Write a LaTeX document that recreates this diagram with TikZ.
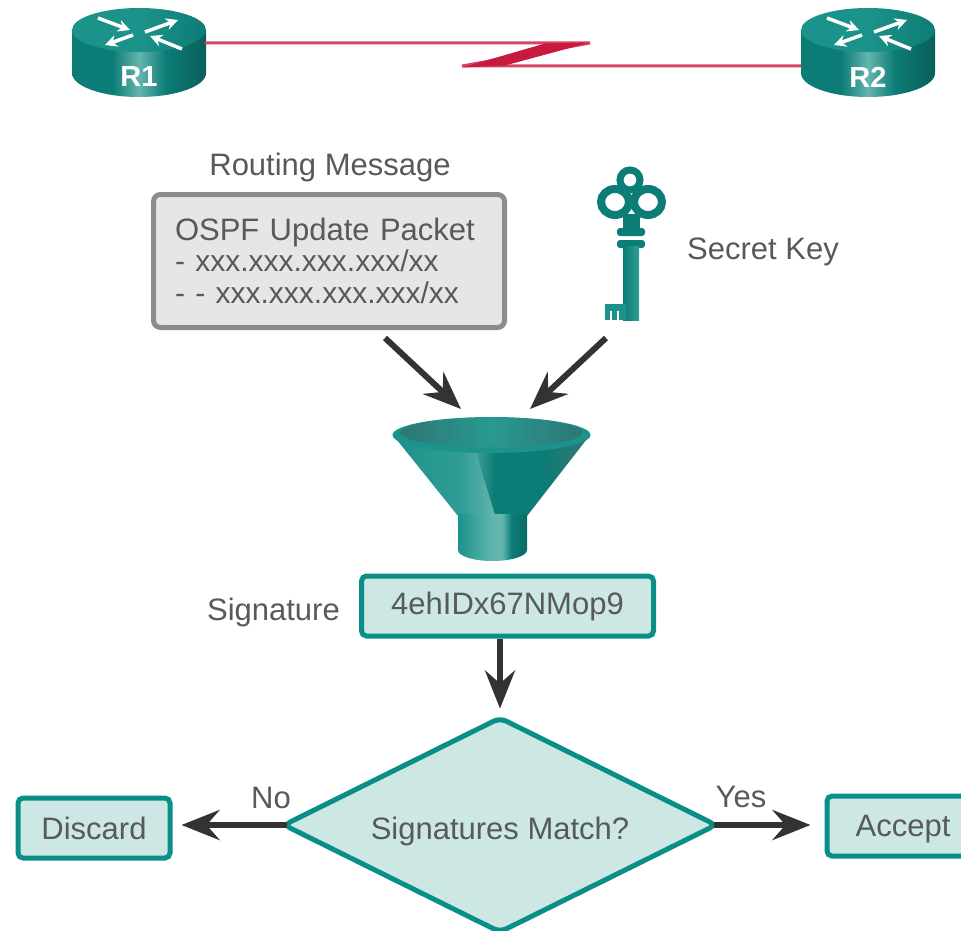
\documentclass[tikz,border=0pt]{standalone}
\usepackage{fontspec}
\setmainfont{Liberation Sans}
\usetikzlibrary{arrows.meta, shapes.geometric}

\definecolor{tealline}{HTML}{0A8F88}
\definecolor{tealfill}{HTML}{CDE7E5}
\definecolor{textgray}{HTML}{58595B}
\definecolor{arrowgray}{HTML}{333333}
\definecolor{linkred}{HTML}{C8193F}
\definecolor{msgfill}{HTML}{E6E5E7}
\definecolor{msgline}{HTML}{8C8C8C}
\definecolor{sheen}{HTML}{62B6AF}
\definecolor{midteal}{HTML}{1B928A}
\definecolor{deepteal}{HTML}{0C7C76}
\definecolor{darkteal}{HTML}{0A5F5B}
\definecolor{dullteal}{HTML}{2E7673}

% side of the router and parts of the funnel
\pgfdeclarehorizontalshading{routerside}{100bp}{color(0bp)=(deepteal); color(25bp)=(deepteal); color(40bp)=(deepteal); color(50bp)=(sheen); color(60bp)=(deepteal); color(75bp)=(darkteal); color(100bp)=(darkteal)}
\pgfdeclarehorizontalshading{routertop}{100bp}{color(0bp)=(midteal); color(25bp)=(midteal); color(50bp)=(midteal); color(75bp)=(deepteal); color(100bp)=(deepteal)}
\pgfdeclarehorizontalshading{funnelleft}{100bp}{color(0bp)=(midteal); color(25bp)=(midteal); color(58bp)=(midteal!70!sheen); color(75bp)=(sheen); color(100bp)=(sheen)}
\pgfdeclarehorizontalshading{funnelright}{100bp}{color(0bp)=(sheen); color(25bp)=(sheen!70!deepteal); color(34bp)=(deepteal); color(55bp)=(deepteal); color(70bp)=(dullteal); color(100bp)=(dullteal)}
\pgfdeclarehorizontalshading{funnelneck}{100bp}{color(0bp)=(midteal); color(25bp)=(midteal); color(50bp)=(sheen); color(57bp)=(sheen); color(64bp)=(deepteal); color(75bp)=(darkteal!60!deepteal); color(100bp)=(darkteal)}
\pgfdeclarehorizontalshading{funnelbowl}{100bp}{color(0bp)=(dullteal); color(25bp)=(dullteal); color(50bp)=(midteal!80!sheen); color(75bp)=(dullteal); color(100bp)=(dullteal)}

\tikzset{
    txt/.style={text=textgray, font=\fontsize{31}{34}\selectfont, inner sep=0pt},
    routerlabel/.style={text=white, font=\fontsize{29}{32}\selectfont\bfseries, inner sep=0pt},
    tealbox/.style={txt, draw=tealline, fill=tealfill, line width=5pt, rounded corners=5pt},
    flow/.style={-{Stealth[length=38pt, width=30pt, inset=13pt]}, arrowgray, line width=6pt},
    routerarrow/.style={-{Stealth[length=12pt, width=12pt]}, white, line width=3.5pt},
    router/.pic={
        \path[shading=routerside] (-67,0) -- (-67,43) arc[start angle=180, end angle=0, x radius=67, y radius=24] -- (67,0) -- cycle;
        \path[shading=routertop] (0,0) ellipse[x radius=67, y radius=22];
        \draw[routerarrow] (-41,-12) -- (-9,0);
        \draw[routerarrow] (-6,5) -- (-34,15);
        \draw[routerarrow] (6,2) -- (39,-10);
        \draw[routerarrow] (43,19) -- (11,6);
    }
}

\begin{document}
\begin{tikzpicture}[x=1pt, y=-1pt]
    \useasboundingbox (0,0) rectangle (961,931);

    % routers and the serial link
    \path (139,30) pic {router};
    \path (868,30) pic {router};
    \node[routerlabel] (R1) at (139,77) {R1};
    \node[routerlabel] (R2) at (868,77) {R2};
    \coordinate (link1) at (205,43);
    \coordinate (link2) at (801,66);
    \draw[linkred!80!white, line width=3pt] (link1) -- (590,43) -- (462,66) -- (link2);
    \fill[linkred] (590,42.5) -- (545,43.5) -- (462,67.5) -- (505,65.5) -- cycle;

    % message and key
    \node[txt] (title) at (330,167) {Routing Message};
    \node[txt, draw=msgline, fill=msgfill, line width=5pt, rounded corners=7pt, minimum width=351pt, minimum height=133pt, align=left, text width=308pt] (msg) at (329,261) {OSPF Update Packet\\[-3pt]{\fontsize{30}{32}\selectfont - xxx.xxx.xxx.xxx/xx}\\[-2pt]{\fontsize{30}{32}\selectfont - - xxx.xxx.xxx.xxx/xx}};

    % key
    \begin{scope}[deepteal]
        \draw[line width=7pt] (630,180) circle[radius=10];
        \draw[line width=8pt, fill=white] (615,202) ellipse[x radius=14, y radius=13];
        \draw[line width=8pt, fill=white] (648,202) ellipse[x radius=14, y radius=13];
        \fill (623,214) rectangle (640,232);
        \fill[rounded corners=3pt] (617,228) rectangle (645,236);
        \fill[rounded corners=3pt] (617,240) rectangle (645,248);
        \path[left color=deepteal, right color=midteal!70!sheen] (623,246) rectangle (639,320);
        \fill[midteal] (605,304) rectangle (626,311);
        \fill[midteal] (605,311) rectangle (610,320);
        \fill[midteal] (612,311) rectangle (617,320);
        \fill[midteal] (619,311) rectangle (626,320);
    \end{scope}
    \node[txt] (key) at (763,252) {Secret Key};

    % funnel
    \path[shading=funnelleft] (393,435) -- (458,516) -- (496,518) -- (473,445) -- cycle;
    \path[shading=funnelright] (473,445) -- (496,518) -- (527,516) -- (590,435) -- cycle;
    \path[shading=funnelneck] (458,514) -- (458,550) arc[start angle=180, end angle=0, x radius=34.5, y radius=11] -- (527,514) -- cycle;
    \fill[midteal] (491.5,435) ellipse[x radius=99, y radius=18];
    \path[shading=funnelbowl] (491.5,432.5) ellipse[x radius=91, y radius=15];

    % signature
    \node[tealbox, minimum width=292pt, minimum height=60pt] (sig) at (507.5,606) {4ehIDx67NMop9};
    \node[txt, anchor=east] (siglabel) at (340,612) {Signature};

    % decision
    \node[tealbox, diamond, minimum width=434pt, minimum height=216pt, rounded corners=7pt, shape aspect=2] (match) at (500,825) {\raisebox{-14pt}[0pt][0pt]{Signatures Match?}};
    \node[tealbox, minimum width=152pt, minimum height=60pt] (discard) at (94,828) {Discard};
    \node[tealbox, minimum width=152pt, minimum height=60pt] (accept) at (903,826) {\raisebox{-10pt}[0pt][0pt]{Accept}};

    % connectors
    \coordinate (in1) at (385,338);
    \coordinate (in2) at (606,338);
    \coordinate (top1) at (461,409);
    \coordinate (top2) at (530,409);
    \draw[flow] (in1) -- (top1);
    \draw[flow] (in2) -- (top2);
    \draw[flow] (sig.south -| match.north) -- ([yshift=6pt]match.north);
    \draw[flow, shorten <=-6pt] (match.west) -- ([xshift=9pt]discard.east |- match.west);
    \draw[flow, shorten <=-6pt] (match.east) -- ([xshift=-14pt]accept.west |- match.east);
    \node[txt, above] (no) at (271,809) {No};
    \node[txt, above] (yes) at (741,808) {Yes};
\end{tikzpicture}
\end{document}
